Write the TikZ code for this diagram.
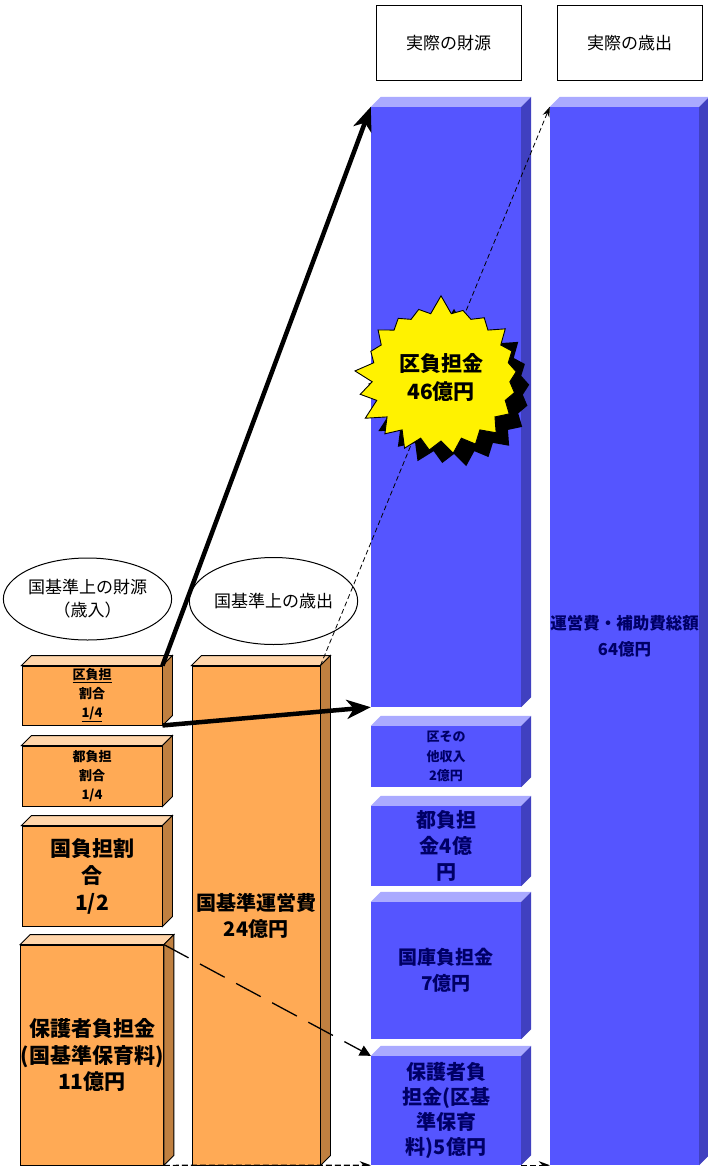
\documentclass[tikz,border=0pt]{standalone}
\usepackage{fontspec}
\setmainfont{Noto Sans CJK JP}
\usetikzlibrary{calc,shapes.symbols,shapes.geometric,arrows.meta}
\definecolor{ofront}{HTML}{FFAA55}
\definecolor{otop}{HTML}{FFD5AA}
\definecolor{oside}{HTML}{C08040}
\definecolor{bfront}{HTML}{5555FF}
\definecolor{btop}{HTML}{AAAAFF}
\definecolor{bside}{HTML}{4040C0}
\definecolor{navy}{HTML}{000066}
\newcommand\mkcube[4]{%
  \filldraw[#4, fill=#2] (#1.north west) -- ++(10,-10) -- ($(#1.north east)+(10,-10)$) -- (#1.north east) -- cycle;
  \filldraw[#4, fill=#3] (#1.north east) -- ++(10,-10) -- ($(#1.south east)+(10,-10)$) -- (#1.south east) -- cycle;}
\newcommand\fs[2]{\fontsize{#1}{#2}\selectfont}
\begin{document}
\begin{tikzpicture}[x=1pt,y=-1pt,
  obox/.style={rectangle, draw=black, line width=0.9pt, fill=ofront, inner sep=0pt, align=center, font=\bfseries},
  bbox/.style={rectangle, fill=bfront, inner sep=0pt, align=center, text=navy, font=\bfseries},
  hdr/.style={rectangle, draw=black, line width=1pt, fill=white, minimum width=145pt, minimum height=75pt, inner sep=0pt, font=\fs{17}{22}},
  ell/.style={ellipse, draw=black, line width=1pt, fill=white, inner sep=0pt, align=center, font=\fs{17}{23}},
  thick arrow/.style={line width=4.5pt, -{Stealth[length=24pt,width=19pt,inset=7pt]}},
  burst/.style={starburst, starburst points=21, starburst point height=19pt, random starburst=7, minimum width=176pt, minimum height=166pt, inner sep=0pt, align=center, font=\bfseries\fs{21}{28}}
]
\useasboundingbox (0,0) rectangle (707,1166);
\fill[white] (0,0) rectangle (707,1166);

% header boxes
\node[hdr] (h1) at (448.5,43.5) {実際の財源};
\node[hdr] (h2) at (629.5,43.5) {実際の歳出};

% ellipses
\node[ell, minimum width=153pt, minimum height=82pt] (e1) at (87.5,599) {国基準上の財源\\（歳入）};
\node[ell, minimum width=155pt, minimum height=87pt] (e2) at (273.5,601) {国基準上の歳出};

% orange boxes
\node[obox, minimum width=140pt, minimum height=59pt, font=\bfseries\fs{13}{19}] (k1) at (92,695.5) {\underline{区負担}\\割合\\\underline{1/4}};
\node[obox, minimum width=140pt, minimum height=60pt, font=\bfseries\fs{13}{19}] (k2) at (92,776) {都負担\\割合\\1/4};
\node[obox, minimum width=140pt, minimum height=100pt, font=\bfseries\fs{21}{27}] (k3) at (92,876) {国負担割\\合\\1/2};
\node[obox, minimum width=140pt, minimum height=220pt, font=\bfseries\fs{21}{26.5}] (k4) at (92,1055) {保護者負担金\\(国基準保育料)\\11億円};
\node[obox, minimum width=128pt, minimum height=499pt, font=\bfseries\fs{20}{26}] (kb) at (256,915.5) {国基準運営費\\24億円};

% blue boxes
\node[bbox, minimum width=150pt, minimum height=600pt] (b0) at (446,407) {};
\node[bbox, minimum width=150pt, minimum height=61pt, font=\bfseries\fs{13}{19.5}] (b1) at (446,756.5) {区その\\他収入\\2億円};
\node[bbox, minimum width=150pt, minimum height=80pt, font=\bfseries\fs{20}{26}] (b2) at (446,846) {都負担\\金4億\\円};
\node[bbox, minimum width=150pt, minimum height=137pt, font=\bfseries\fs{19}{26}] (b3) at (446,970.5) {国庫負担金\\7億円};
\node[bbox, minimum width=150pt, minimum height=109pt, font=\bfseries\fs{20}{25}] (b4) at (446,1110.5) {保護者負\\担金(区基\\準保育\\料)5億円};
\node[bbox, minimum width=149pt, minimum height=1058pt, font=\bfseries\fs{16.5}{26}] (bR) at (624.5,636) {運営費・補助費総額\\64億円};

\draw[line width=1.4pt, dash pattern=on 6pt off 3pt, -{Stealth[length=11pt,width=8pt]}] (k4.south east) -- (b4.south west);

% cube faces
\mkcube{k1}{otop}{oside}{draw=black, line width=0.9pt}
\mkcube{k2}{otop}{oside}{draw=black, line width=0.9pt}
\mkcube{k3}{otop}{oside}{draw=black, line width=0.9pt}
\mkcube{k4}{otop}{oside}{draw=black, line width=0.9pt}
\mkcube{kb}{otop}{oside}{draw=black, line width=0.9pt}
\mkcube{b0}{btop}{bside}{draw=none}
\mkcube{b1}{btop}{bside}{draw=none}
\mkcube{b2}{btop}{bside}{draw=none}
\mkcube{b3}{btop}{bside}{draw=none}
\mkcube{b4}{btop}{bside}{draw=none}
\mkcube{bR}{btop}{bside}{draw=none}

% connectors
\draw[line width=1.4pt, dash pattern=on 6pt off 3pt, -{Stealth[length=11pt,width=8pt]}] (b4.south east) -- (bR.south west);
\draw[line width=0.8pt, dash pattern=on 5pt off 3pt, -{Stealth[length=10pt,width=7pt]}] (kb.north east) -- (bR.north west);
\draw[line width=1.3pt, dash pattern=on 28pt off 13pt, -{Triangle[length=11pt,width=11pt]}] (k4.north east) -- (b4.north west);
\draw[thick arrow] (k1.north east) -- (b0.north west);
\draw[thick arrow] (k1.south east) -- (b0.south west);

% starburst
\node[burst, fill=black] (sbs) at (454,390) {\phantom{区負担金}\\\phantom{46億円}};
\node[burst, fill=yellow, draw=black, line width=0.9pt] (sb) at (441,377) {区負担金\\46億円};
\end{tikzpicture}
\end{document}
